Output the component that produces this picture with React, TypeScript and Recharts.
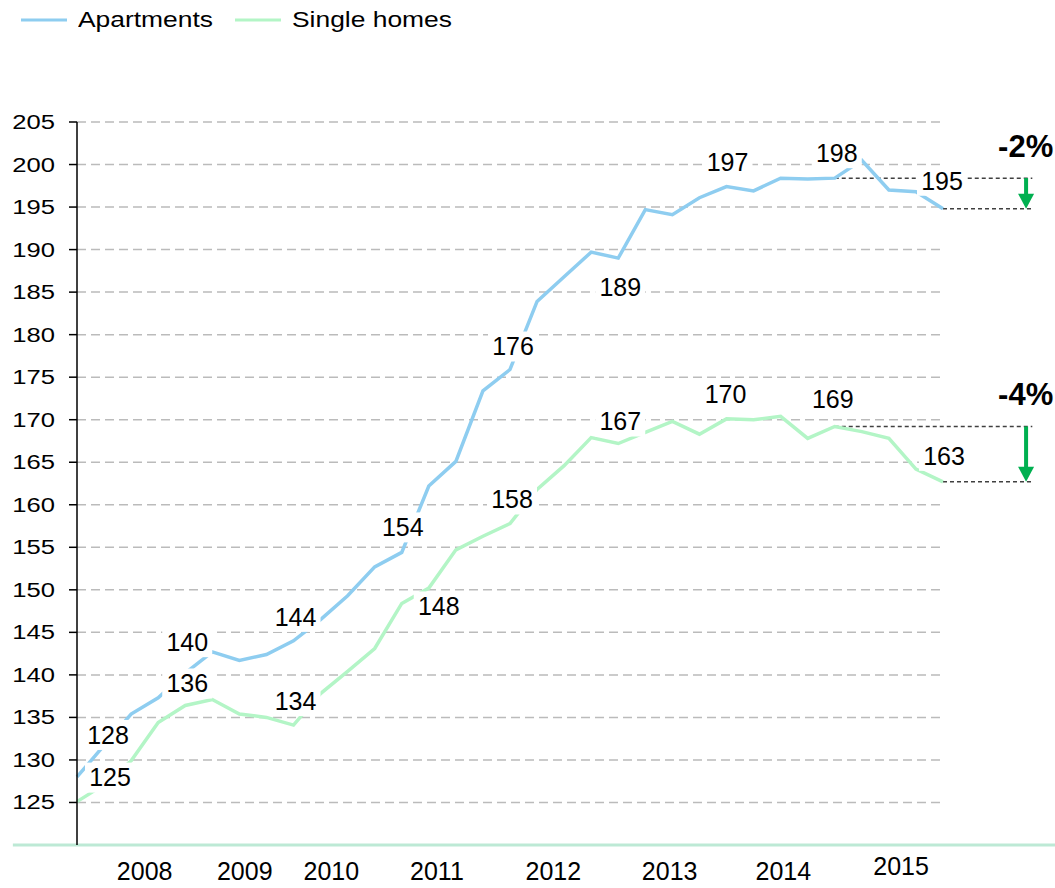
import React from "react";
import {
  LineChart,
  Line,
  XAxis,
  YAxis,
  CartesianGrid,
  Legend,
  LabelList,
  ReferenceLine,
} from "recharts";

// quarterly index, first point is Q4 2007, last is Q4 2015
const apartments = [
  128.0, 131.7, 135.4, 137.3, 140.2, 142.7, 141.7, 142.4, 144.0, 146.5, 149.3,
  152.7, 154.4, 162.2, 165.1, 173.4, 175.9, 183.9, 186.8, 189.7, 189.0, 194.7,
  194.1, 196.1, 197.4, 196.9, 198.4, 198.3, 198.4, 200.5, 197.0, 196.8, 194.8,
];
const singleHomes = [
  125.1, 127.1, 129.9, 134.4, 136.4, 137.1, 135.4, 135.0, 134.1, 137.8, 140.4,
  143.1, 148.4, 150.2, 154.7, 156.3, 157.8, 161.8, 164.6, 167.9, 167.2, 168.5,
  169.8, 168.3, 170.1, 170.0, 170.4, 167.8, 169.2, 168.6, 167.8, 164.2, 162.7,
];

const years = ["2008", "2009", "2010", "2011", "2012", "2013", "2014", "2015"];
// where the year labels sit, counted in quarters from the first point
const yearPositions = [2.5, 6.2, 9.4, 13.3, 17.6, 21.9, 26.1, 30.45];
const yTicks = [125, 130, 135, 140, 145, 150, 155, 160, 165, 170, 175, 180, 185, 190, 195, 200, 205];

const data = apartments.map((v, i) => ({ q: i, apartments: v, singleHomes: singleHomes[i] }));

const FONT = "'Liberation Sans', Arial, sans-serif";
const BLUE = "#8ecdf0";
const GREEN = "#b3f5c6";
const ARROW = "#00b050";

// label offsets from the point (px), only these points get a value tag
const apartmentTags: Record<number, [number, number]> = {
  0: [31, -42], 4: [2, -31], 8: [2, -24], 12: [1, -25], 16: [3, -23],
  20: [2, 29], 24: [1, -24], 28: [2, -25], 32: [-1, -28],
};
const homeTags: Record<number, [number, number]> = {
  0: [33, -24], 4: [2, -22], 8: [2, -24], 12: [37, 3], 16: [2, -24],
  20: [2, -22], 24: [-1, -25], 28: [-2, -27], 32: [1, -26],
};

function ValueTag(props: any) {
  const { x, y, value, index, tags } = props;
  const spot = tags[index];
  if (!spot || x == null || y == null) return null;
  const cx = Number(x) + spot[0];
  const cy = Number(y) + spot[1];
  const text = String(Math.round(Number(value)));
  const w = text.length * 14 + 8;
  const h = 30;
  return (
    <g>
      <rect x={cx - w / 2} y={cy - h / 2} width={w} height={h} fill="#fff" />
      <text x={cx} y={cy} dy="0.35em" textAnchor="middle" fontSize={25} fontFamily={FONT} fill="#000">
        {text}
      </text>
    </g>
  );
}

function DropArrow(props: any) {
  const { x1, y1, y2, text } = props;
  const head = 15;
  return (
    <g>
      <rect x={x1 - 2} y={y1} width={4} height={y2 - y1 - head + 1} fill={ARROW} />
      <path d={`M${x1 - 8},${y2 - head} L${x1 + 8},${y2 - head} L${x1},${y2} Z`} fill={ARROW} />
      <text x={x1 - 28} y={y1 - 32} dy="0.35em" fontSize={31} fontWeight="bold" fontFamily={FONT} fill="#000">
        {text}
      </text>
    </g>
  );
}

function YearTick(props: any) {
  const { x, y, payload } = props;
  const i = yearPositions.indexOf(payload.value);
  const label = years[i] ?? "";
  return (
    <text x={x} y={label === "2015" ? y - 5 : y} dy="0.71em" textAnchor="middle" fontSize={25} fontFamily={FONT} fill="#000">
      {label}
    </text>
  );
}

// the reference draws the value axis digits a bit wide
function ValueTick(props: any) {
  const { x, y, payload } = props;
  return (
    <text
      transform={`translate(${x},${y}) scale(1.28,1)`}
      dy="0.35em"
      textAnchor="end"
      fontSize={20}
      fontFamily={FONT}
      fill="#000"
    >
      {payload.value}
    </text>
  );
}

const legendLefts = [21, 235];

function LegendRow(props: any) {
  const { payload } = props;
  return (
    <div style={{ position: "relative", height: 40, fontFamily: FONT, fontSize: 22, color: "#000" }}>
      {(payload || []).map((entry: any, i: number) => (
        <div
          key={entry.value}
          style={{ position: "absolute", left: legendLefts[i], top: 7, display: "flex", alignItems: "center", whiteSpace: "nowrap" }}
        >
          <svg width={46} height={4}>
            <line x1={0} y1={2} x2={46} y2={2} stroke={entry.color} strokeWidth={3} />
          </svg>
          <span style={{ marginLeft: 11, display: "inline-block", transform: "scaleX(1.2)", transformOrigin: "left center" }}>
            {entry.value}
          </span>
        </div>
      ))}
    </div>
  );
}

const dash = "4 3";

export default function App() {
  return (
    <div style={{ position: "absolute", left: 0, top: 0 }}>
      <LineChart width={1055} height={888} data={data} margin={{ top: 82, right: 112, bottom: 0, left: 0 }}>
        <CartesianGrid vertical={false} stroke="#bbbbbb" strokeWidth={1.5} strokeDasharray="9 5" />
        <XAxis
          type="number"
          dataKey="q"
          domain={[0, 32]}
          ticks={yearPositions}
          interval={0}
          axisLine={false}
          tickLine={false}
          tickSize={6}
          tickMargin={11}
          height={43}
          tick={<YearTick />}
        />
        <YAxis
          domain={[120, 205]}
          ticks={yTicks}
          interval={0}
          width={77}
          axisLine={{ stroke: "#000", strokeWidth: 1.5 }}
          tickLine={{ stroke: "#000", strokeWidth: 1.5 }}
          tickSize={8}
          tickMargin={14}
          tick={<ValueTick />}
        />
        <Legend
          verticalAlign="top"
          align="left"
          content={<LegendRow />}
          wrapperStyle={{ top: 0, left: 0, width: 1055 }}
        />

        <ReferenceLine segment={[{ x: -2.37, y: 120 }, { x: 36.2, y: 120 }]} stroke="#bde9d5" strokeWidth={3} ifOverflow="visible" />

        <ReferenceLine segment={[{ x: 28, y: 198.4 }, { x: 35.3, y: 198.4 }]} stroke="#404040" strokeWidth={1.5} strokeDasharray={dash} ifOverflow="visible" />
        <ReferenceLine segment={[{ x: 32, y: 194.8 }, { x: 35.3, y: 194.8 }]} stroke="#404040" strokeWidth={1.5} strokeDasharray={dash} ifOverflow="visible" />
        <ReferenceLine segment={[{ x: 28, y: 169.2 }, { x: 35.3, y: 169.2 }]} stroke="#404040" strokeWidth={1.5} strokeDasharray={dash} ifOverflow="visible" />
        <ReferenceLine segment={[{ x: 32, y: 162.7 }, { x: 35.3, y: 162.7 }]} stroke="#404040" strokeWidth={1.5} strokeDasharray={dash} ifOverflow="visible" />

        <ReferenceLine
          segment={[{ x: 35.07, y: 198.4 }, { x: 35.07, y: 194.8 }]}
          ifOverflow="visible"
          shape={(p: any) => <DropArrow {...p} text="-2%" />}
        />
        <ReferenceLine
          segment={[{ x: 35.07, y: 169.2 }, { x: 35.07, y: 162.7 }]}
          ifOverflow="visible"
          shape={(p: any) => <DropArrow {...p} text="-4%" />}
        />

        <Line
          type="linear"
          dataKey="apartments"
          name="Apartments"
          stroke={BLUE}
          strokeWidth={3.5}
          dot={false}
          activeDot={false}
          isAnimationActive={false}
        >
          <LabelList dataKey="apartments" content={(p: any) => <ValueTag {...p} tags={apartmentTags} />} />
        </Line>
        <Line
          type="linear"
          dataKey="singleHomes"
          name="Single homes"
          stroke={GREEN}
          strokeWidth={3.5}
          dot={false}
          activeDot={false}
          isAnimationActive={false}
        >
          <LabelList dataKey="singleHomes" content={(p: any) => <ValueTag {...p} tags={homeTags} />} />
        </Line>
      </LineChart>
    </div>
  );
}
